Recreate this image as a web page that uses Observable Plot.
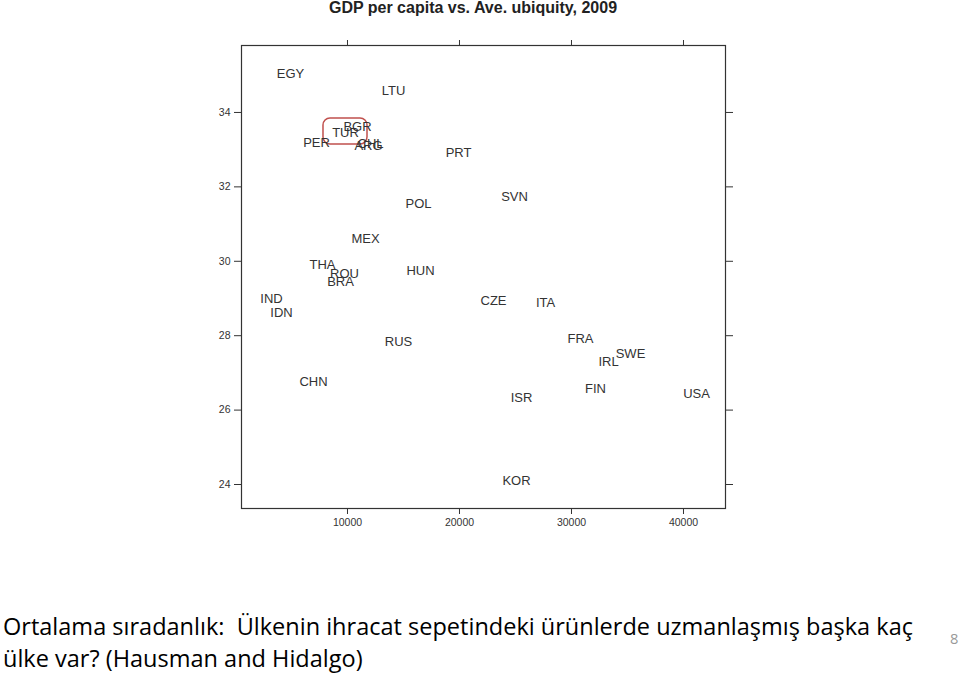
<!DOCTYPE html>
<html>
<head>
<meta charset="utf-8">
<script src="https://cdn.jsdelivr.net/npm/d3@7"></script>
<script src="https://cdn.jsdelivr.net/npm/@observablehq/plot@0.6"></script>
<style>
  html, body { margin: 0; padding: 0; background: #fff; }
  #wrap { position: relative; width: 960px; height: 675px; overflow: hidden; background: #fff; }
  #chart { position: absolute; top: 0; left: 0; z-index: 1; }
  #title { position: absolute; top: -1px; left: 0; width: 946px; text-align: center; z-index: 2;
           font: bold 16px "Liberation Sans", Arial, sans-serif; line-height: 17px; color: #222; }
  .cap { position: absolute; left: 3px; font: 24px "Open Sans", sans-serif; color: #000; white-space: nowrap;
         transform-origin: 0 0; z-index: 2; }
  #page { position: absolute; left: 950px; top: 628px; font: 15px "Open Sans", sans-serif; color: #999; z-index: 2;
          transform-origin: 0 0; }
</style>
</head>
<body>
<div id="wrap">
  <div id="chart"></div>
  <div id="title">GDP per capita vs. Ave. ubiquity, 2009</div>
  <div class="cap" id="cap1" style="top:609px">Ortalama sıradanlık:&nbsp; Ülkenin ihracat sepetindeki ürünlerde uzmanlaşmış başka kaç</div>
  <div class="cap" id="cap2" style="top:641px">ülke var? (Hausman and Hidalgo)</div>
  <div id="page">8</div>
</div>
<script>
const countries = ["EGY","LTU","BGR","TUR","PER","CHL","ARG","PRT","SVN","POL","MEX","THA","ROU","BRA","HUN","IND","IDN","CZE","ITA","RUS","FRA","SWE","IRL","CHN","FIN","USA","ISR","KOR"];
const gdp = [4911,14107,10893,9821,7232,12054,11875,19911,24911,16339,11607,7768,9732,9375,16518,3214,4107,23036,27679,14554,30804,35268,33304,6964,32143,41161,25536,25089];
const ubiquity = [35.05,34.59,33.62,33.44,33.19,33.17,33.09,32.92,31.74,31.55,30.61,29.91,29.67,29.46,29.75,29.00,28.62,28.95,28.89,27.84,27.92,27.52,27.31,26.77,26.58,26.45,26.34,24.11];
const xTicks = [10000, 20000, 30000, 40000];
const yTicks = [24, 26, 28, 30, 32, 34];
const highlight = [{x1: 7857, x2: 11786, y1: 33.14, y2: 33.84}];

const data = countries.map((c, i) => ({c, x: gdp[i], y: ubiquity[i]}));

const plot = Plot.plot({
  width: 960,
  height: 560,
  marginLeft: 241,
  marginRight: 235,
  marginTop: 45,
  marginBottom: 52,
  style: {fontFamily: '"Liberation Sans", Arial, sans-serif', background: "transparent", color: "#333"},
  x: {domain: [536, 43750]},
  y: {domain: [23.355, 35.80]},
  marks: [
    Plot.frame({stroke: "#333", strokeWidth: 1.2}),
    Plot.axisX({anchor: "bottom", ticks: xTicks, tickFormat: d => String(d), tickSize: 6, tickPadding: 4, fontSize: 10.5, label: null, stroke: "#333"}),
    Plot.axisX({anchor: "top", ticks: xTicks, tickFormat: () => "", tickSize: 6, label: null, stroke: "#333"}),
    Plot.axisY({anchor: "left", ticks: yTicks, tickFormat: d => String(d), tickSize: 7, tickPadding: 4, fontSize: 10.5, label: null, stroke: "#333"}),
    Plot.axisY({anchor: "right", ticks: yTicks, tickFormat: () => "", tickSize: 7, label: null, stroke: "#333"}),
    Plot.rect(highlight, {x1: "x1", x2: "x2", y1: "y1", y2: "y2", fill: "none", stroke: "#c0504d", strokeWidth: 1.5, rx: 7}),
    Plot.text(data, {x: "x", y: "y", text: "c", fontSize: 13, fill: "#333", textAnchor: "middle", lineAnchor: "middle"})
  ]
});
document.getElementById("chart").appendChild(plot);

// condense the caption to the reference line width (Calibri-like narrow face)
const cap1 = document.getElementById("cap1");
const cap2 = document.getElementById("cap2");
const w = cap1.getBoundingClientRect().width;
const s = 910 / w;
cap1.style.transform = `scaleX(${s})`;
cap2.style.transform = `scaleX(${s})`;
document.getElementById("page").style.transform = `scaleX(${s})`;
</script>
</body>
</html>
